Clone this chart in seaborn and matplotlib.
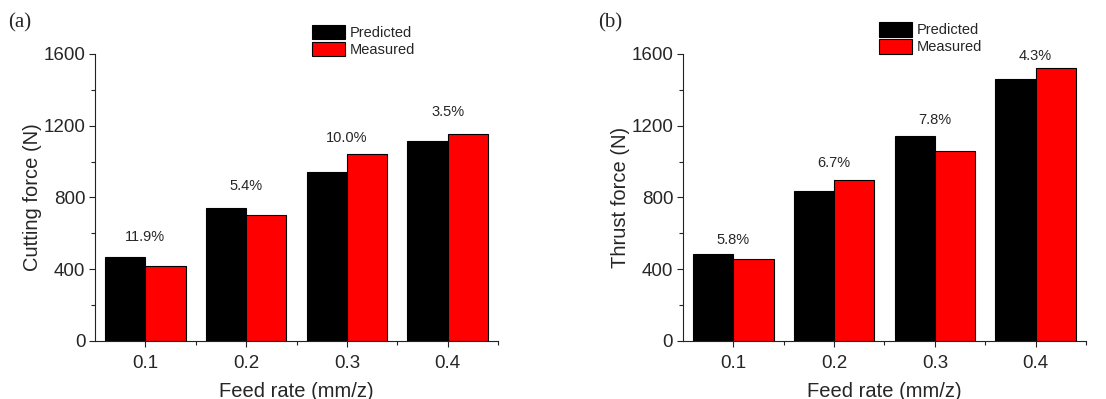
import matplotlib
matplotlib.use("Agg")
import matplotlib.pyplot as plt
import seaborn as sns
import pandas as pd
from matplotlib.ticker import MultipleLocator, FixedLocator
from matplotlib.patches import Patch

feed_rates = ["0.1", "0.2", "0.3", "0.4"]
series = ["Predicted", "Measured"]
cutting_predicted = [467, 739, 941, 1113]
cutting_measured = [417, 700, 1042, 1152]
cutting_errors = ["11.9%", "5.4%", "10.0%", "3.5%"]
cutting_label_y = [580, 865, 1129, 1274]
thrust_predicted = [484, 835, 1143, 1460]
thrust_measured = [456, 896, 1059, 1522]
thrust_errors = ["5.8%", "6.7%", "7.8%", "4.3%"]
thrust_label_y = [564, 990, 1232, 1587]

sns.set_style("ticks")
plt.rcParams['font.family'] = ['Liberation Sans', 'DejaVu Sans']

colors = ["black", "red"]

def make_df(pred, meas):
    return pd.DataFrame({
        "feed": feed_rates * 2,
        "force": list(pred) + list(meas),
        "type": [series[0]] * 4 + [series[1]] * 4,
    })

fig = plt.figure(figsize=(11.06, 3.99), dpi=100)
axA = fig.add_axes([0.0859, 0.1454, 0.3644, 0.7193])
axB = fig.add_axes([0.6175, 0.1454, 0.3644, 0.7193])

panels = [
    (axA, cutting_predicted, cutting_measured, cutting_errors, cutting_label_y, "Cutting force (N)", (0.538, 1.101), "(a)", 8),
    (axB, thrust_predicted, thrust_measured, thrust_errors, thrust_label_y, "Thrust force (N)", (0.486, 1.111), "(b)", 598),
]

for ax, pred, meas, errs, ly, ylabel, leg_anchor, tag, tagx in panels:
    df = make_df(pred, meas)
    sns.barplot(data=df, x="feed", y="force", hue="type", palette=colors,
                edgecolor="black", linewidth=0.8, width=0.8, ax=ax,
                saturation=1, legend=False)
    ax.set_xlim(-0.5, 3.5)
    ax.set_ylim(0, 1600)
    ax.yaxis.set_major_locator(MultipleLocator(400))
    ax.yaxis.set_minor_locator(MultipleLocator(200))
    ax.xaxis.set_minor_locator(FixedLocator([0.5, 1.5, 2.5, 3.5]))
    ax.tick_params(axis="both", which="major", labelsize=13.5, length=4, width=0.8, direction="out", color="#222222")
    ax.tick_params(axis="both", which="minor", length=3, width=0.8, direction="out", color="#222222")
    ax.tick_params(axis="x", pad=6)
    ax.tick_params(axis="y", pad=3)
    for s in ["top", "right"]:
        ax.spines[s].set_visible(False)
    for s in ["left", "bottom"]:
        ax.spines[s].set_linewidth(0.8)
        ax.spines[s].set_color("#222222")
    ax.set_xlabel("Feed rate (mm/z)", fontsize=14.5, labelpad=7)
    ax.set_ylabel(ylabel, fontsize=14.5, labelpad=1)
    for i, (t, y) in enumerate(zip(errs, ly)):
        ax.text(i, y, t, ha="center", va="center", fontsize=10.5, clip_on=False)
    handles = [Patch(facecolor=c, edgecolor="black", linewidth=0.8) for c in colors]
    ax.legend(handles, series, loc="upper left", bbox_to_anchor=leg_anchor,
              frameon=False, fontsize=10.5, borderpad=0, borderaxespad=0,
              handlelength=2.3, handleheight=1.15, handletextpad=0.3,
              labelspacing=0.12)
    fig.text(tagx / 1106, 1 - 23 / 399, tag, ha="left", va="center",
             fontsize=15, family="Liberation Serif")

fig.savefig("out.png", dpi=100)
